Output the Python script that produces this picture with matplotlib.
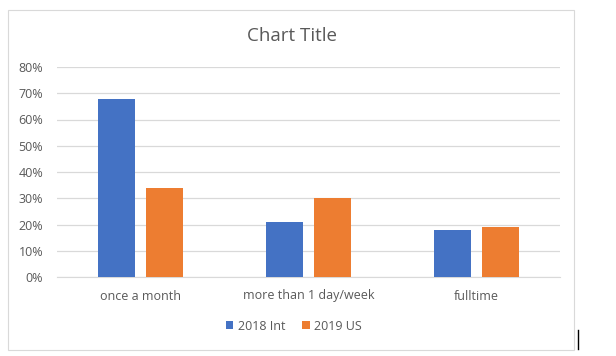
import matplotlib
matplotlib.use("Agg")
import matplotlib.pyplot as plt
from matplotlib.patches import Rectangle
from matplotlib.lines import Line2D
import numpy as np

categories = ["once a month", "more than 1 day/week", "fulltime"]
series_names = ["2018 Int", "2019 US"]
values_2018 = [0.68, 0.21, 0.18]
values_2019 = [0.34, 0.30, 0.19]
yticks = [0, 0.1, 0.2, 0.3, 0.4, 0.5, 0.6, 0.7, 0.8]
ytick_labels = ["0%", "10%", "20%", "30%", "40%", "50%", "60%", "70%", "80%"]

blue = "#4472C4"
orange = "#ED7D31"
gray_text = "#595959"
grid_col = "#D9D9D9"

plt.rcParams['font.family'] = ['Open Sans', 'DejaVu Sans']

fig = plt.figure(figsize=(6.16, 3.56), dpi=100)
fig.patch.set_facecolor("white")

# chart border
fig.patches.append(Rectangle((8/616, 1-350/356), (574-8)/616, (350-10)/356,
                             transform=fig.transFigure, fill=False,
                             edgecolor="#D9D9D9", linewidth=0.8))
# cursor line
fig.lines.append(Line2D([578/616, 578/616], [1-349/356, 1-330/356],
                        transform=fig.transFigure, color="black", linewidth=1.0))

ax = fig.add_axes([57/616, 1-277/356, (560-57)/616, (277-67)/356])
x = np.arange(len(categories))
w = 0.22
off = 0.143
ax.bar(x - off, values_2018, w, color=blue, label=series_names[0], zorder=3)
ax.bar(x + off, values_2019, w, color=orange, label=series_names[1], zorder=3)

ax.set_xlim(-0.5, len(categories) - 0.5)
ax.set_ylim(0, 0.8)
ax.set_yticks(yticks)
ax.set_yticklabels(ytick_labels, color=gray_text, fontsize=9)
ax.set_xticks(x)
ax.set_xticklabels(categories, color=gray_text, fontsize=9)
ax.tick_params(axis="y", length=0, pad=10)
ax.tick_params(axis="x", length=0, pad=9)
ax.yaxis.grid(True, color=grid_col, linewidth=0.9, zorder=0)
ax.set_axisbelow(True)
for s in ax.spines.values():
    s.set_visible(False)
ax.spines["bottom"].set_visible(True)
ax.spines["bottom"].set_color(grid_col)

fig.text(292/616, 1-36/356, "Chart Title", ha="center", va="center",
         fontsize=13.5, color=gray_text)

leg = fig.legend(loc="center", bbox_to_anchor=(294/616, 1-326/356), ncol=2,
                 frameon=False, fontsize=9, handlelength=0.6, handleheight=0.6,
                 handletextpad=0.4, columnspacing=1.3)
for t in leg.get_texts():
    t.set_color(gray_text)

fig.savefig("out.png", dpi=100, facecolor="white")
